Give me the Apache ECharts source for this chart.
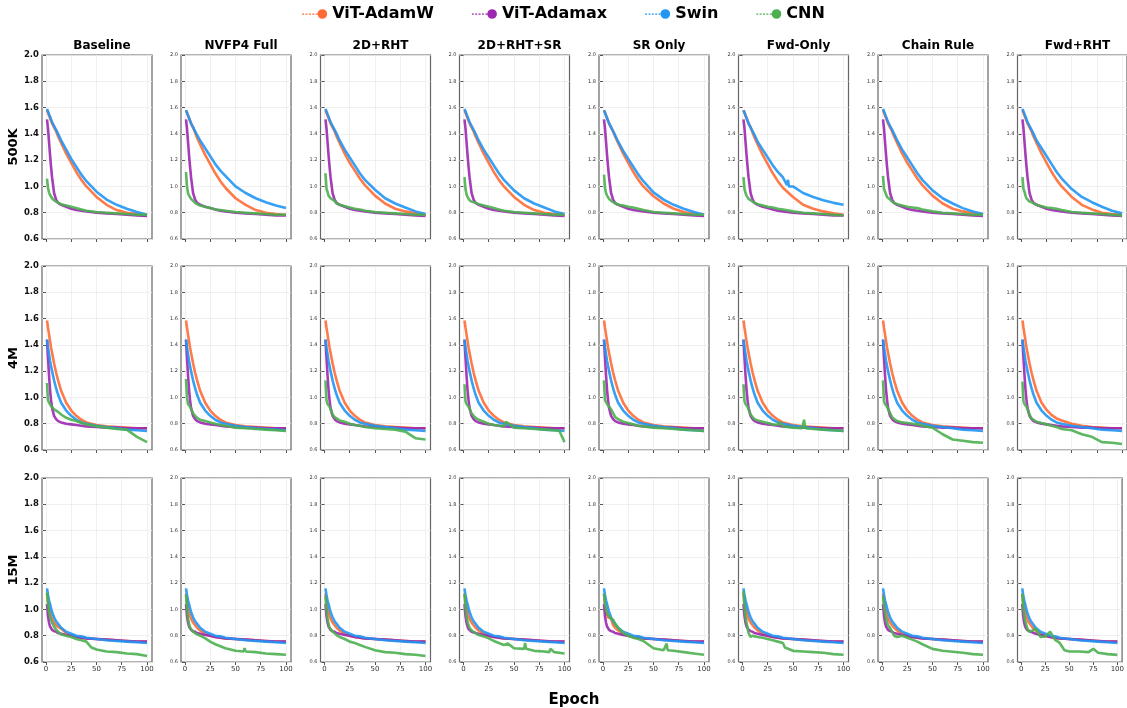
<!DOCTYPE html>
<html lang="en">
<head>
<meta charset="UTF-8">
<title>Loss curves</title>
<script src="https://cdn.jsdelivr.net/npm/echarts@6/dist/echarts.min.js"></script>
<style>
  html, body { margin: 0; padding: 0; background: #fff; }
  #main { width: 1127px; height: 708px; }
</style>
</head>
<body>
<div id="main"></div>
<script>
  // ---- data ----
  var epochs = [1, 2, 3, 4, 5, 6, 8, 10, 12, 15, 20, 25, 30, 35, 40, 50, 60, 70, 80, 90, 100];
  var methods = ['Baseline', 'NVFP4 Full', '2D+RHT', '2D+RHT+SR', 'SR Only', 'Fwd-Only', 'Chain Rule', 'Fwd+RHT'];
  var sizes = ['500K', '4M', '15M'];
  var seriesNames = ['ViT-AdamW', 'ViT-Adamax', 'Swin', 'CNN'];
  var xTicks = [0, 25, 50, 75, 100];

  // 500K row, one list per column
  var adamw500K = [
    [1.58,1.56,1.54,1.52,1.50,1.48,1.45,1.42,1.38,1.33,1.25,1.18,1.11,1.05,1.00,0.92,0.86,0.82,0.80,0.79,0.78],
    [1.58,1.56,1.54,1.52,1.50,1.48,1.45,1.41,1.37,1.32,1.24,1.17,1.10,1.04,0.99,0.91,0.86,0.82,0.80,0.79,0.785],
    [1.58,1.56,1.54,1.52,1.50,1.48,1.45,1.42,1.38,1.33,1.25,1.18,1.12,1.06,1.01,0.93,0.87,0.83,0.81,0.795,0.785],
    [1.58,1.56,1.54,1.52,1.50,1.48,1.45,1.42,1.38,1.33,1.25,1.18,1.11,1.05,1.00,0.92,0.86,0.82,0.80,0.79,0.785],
    [1.58,1.56,1.54,1.52,1.50,1.48,1.45,1.42,1.38,1.33,1.25,1.18,1.11,1.05,1.00,0.925,0.87,0.83,0.805,0.79,0.78],
    [1.58,1.56,1.54,1.52,1.50,1.48,1.45,1.41,1.37,1.32,1.24,1.17,1.10,1.04,0.99,0.92,0.86,0.83,0.81,0.795,0.785],
    [1.58,1.56,1.54,1.52,1.50,1.48,1.45,1.42,1.38,1.33,1.25,1.18,1.12,1.06,1.01,0.93,0.87,0.83,0.81,0.795,0.785],
    [1.58,1.56,1.54,1.52,1.50,1.48,1.45,1.42,1.38,1.33,1.25,1.18,1.11,1.05,1.00,0.92,0.86,0.825,0.80,0.79,0.785]
  ];
  var adamax500K = [
    [1.51,1.44,1.34,1.24,1.15,1.07,0.95,0.90,0.875,0.86,0.845,0.83,0.82,0.815,0.81,0.80,0.795,0.79,0.785,0.78,0.775],
    [1.51,1.44,1.34,1.24,1.15,1.07,0.95,0.90,0.875,0.86,0.845,0.835,0.825,0.815,0.81,0.80,0.795,0.79,0.785,0.78,0.78],
    [1.51,1.44,1.34,1.24,1.15,1.07,0.95,0.90,0.875,0.86,0.845,0.83,0.82,0.815,0.81,0.80,0.795,0.79,0.785,0.78,0.775],
    [1.51,1.44,1.34,1.24,1.15,1.07,0.95,0.90,0.875,0.86,0.845,0.83,0.82,0.815,0.81,0.80,0.795,0.79,0.785,0.78,0.775],
    [1.51,1.44,1.34,1.24,1.15,1.07,0.95,0.90,0.875,0.86,0.845,0.83,0.82,0.815,0.81,0.80,0.795,0.79,0.785,0.78,0.775],
    [1.51,1.44,1.34,1.24,1.15,1.07,0.95,0.90,0.875,0.86,0.845,0.835,0.825,0.815,0.81,0.80,0.795,0.79,0.785,0.78,0.78],
    [1.51,1.44,1.34,1.24,1.15,1.07,0.95,0.90,0.875,0.86,0.845,0.83,0.82,0.815,0.81,0.80,0.795,0.79,0.785,0.78,0.775],
    [1.51,1.44,1.34,1.24,1.15,1.07,0.95,0.90,0.875,0.86,0.845,0.83,0.82,0.815,0.81,0.80,0.795,0.79,0.785,0.78,0.775]
  ];
  var swin500K = [
    [1.59,1.57,1.55,1.53,1.51,1.49,1.46,1.43,1.40,1.35,1.28,1.21,1.15,1.09,1.04,0.96,0.90,0.86,0.83,0.805,0.785],
    [1.58,1.56,1.54,1.52,1.50,1.48,1.45,1.42,1.39,1.35,1.29,1.23,1.17,1.12,1.08,1.00,0.95,0.91,0.88,0.855,0.835],
    [1.59,1.57,1.55,1.53,1.51,1.49,1.46,1.43,1.40,1.35,1.28,1.22,1.16,1.10,1.05,0.975,0.91,0.87,0.84,0.81,0.79],
    [1.59,1.57,1.55,1.53,1.51,1.49,1.46,1.43,1.40,1.35,1.28,1.22,1.16,1.10,1.05,0.97,0.91,0.87,0.84,0.81,0.79],
    [1.58,1.56,1.54,1.52,1.50,1.48,1.45,1.42,1.39,1.34,1.27,1.21,1.15,1.09,1.04,0.955,0.90,0.86,0.83,0.805,0.785],
    [1.58,1.56,1.54,1.52,1.50,1.48,1.45,1.42,1.39,1.34,1.28,1.22,1.16,1.11,1.07,1.00,0.95,0.92,0.895,0.875,0.86],
    [1.59,1.57,1.55,1.53,1.51,1.49,1.46,1.43,1.40,1.35,1.28,1.22,1.16,1.10,1.05,0.97,0.91,0.87,0.835,0.81,0.79],
    [1.59,1.57,1.55,1.53,1.51,1.49,1.46,1.43,1.40,1.35,1.29,1.23,1.17,1.11,1.06,0.98,0.92,0.88,0.845,0.815,0.795]
  ];
  var cnn500K = [
    [1.06,0.99,0.955,0.935,0.92,0.91,0.895,0.885,0.875,0.865,0.855,0.845,0.835,0.825,0.815,0.805,0.80,0.795,0.79,0.785,0.785],
    [1.11,1.00,0.95,0.93,0.915,0.905,0.89,0.875,0.865,0.855,0.845,0.835,0.825,0.82,0.815,0.805,0.80,0.795,0.79,0.785,0.785],
    [1.10,0.98,0.96,0.93,0.92,0.91,0.90,0.89,0.87,0.86,0.85,0.84,0.83,0.825,0.815,0.805,0.80,0.795,0.79,0.785,0.785],
    [1.07,0.98,0.94,0.92,0.905,0.895,0.885,0.88,0.875,0.865,0.855,0.845,0.835,0.825,0.815,0.805,0.80,0.795,0.79,0.785,0.785],
    [1.09,0.99,0.95,0.93,0.915,0.905,0.89,0.88,0.87,0.86,0.855,0.845,0.84,0.83,0.82,0.805,0.80,0.795,0.79,0.785,0.785],
    [1.07,0.98,0.95,0.93,0.915,0.905,0.895,0.885,0.875,0.865,0.855,0.845,0.84,0.83,0.825,0.81,0.80,0.795,0.79,0.785,0.78],
    [1.08,0.98,0.96,0.94,0.92,0.905,0.90,0.885,0.875,0.865,0.855,0.845,0.84,0.835,0.825,0.81,0.80,0.795,0.79,0.785,0.785],
    [1.07,0.98,0.96,0.93,0.91,0.90,0.885,0.88,0.87,0.86,0.85,0.84,0.835,0.83,0.82,0.805,0.80,0.795,0.79,0.785,0.78]
  ];

  // 4M row
  var adamw4M = [
    [1.585,1.53,1.48,1.43,1.38,1.34,1.26,1.19,1.13,1.05,0.96,0.90,0.86,0.83,0.81,0.79,0.78,0.775,0.77,0.765,0.765],
    [1.585,1.53,1.48,1.43,1.38,1.34,1.26,1.19,1.13,1.05,0.96,0.90,0.86,0.83,0.81,0.79,0.78,0.775,0.77,0.765,0.765],
    [1.585,1.53,1.48,1.43,1.38,1.34,1.26,1.19,1.13,1.05,0.96,0.90,0.86,0.83,0.81,0.79,0.78,0.775,0.77,0.765,0.765],
    [1.585,1.53,1.48,1.43,1.38,1.34,1.26,1.19,1.13,1.05,0.96,0.90,0.86,0.83,0.81,0.79,0.78,0.775,0.77,0.765,0.765],
    [1.585,1.53,1.48,1.43,1.38,1.34,1.26,1.19,1.13,1.05,0.96,0.90,0.86,0.83,0.81,0.79,0.78,0.775,0.77,0.765,0.765],
    [1.585,1.53,1.48,1.43,1.38,1.34,1.26,1.19,1.13,1.05,0.96,0.90,0.86,0.83,0.81,0.79,0.78,0.775,0.77,0.765,0.765],
    [1.585,1.53,1.48,1.43,1.38,1.34,1.26,1.19,1.13,1.05,0.96,0.90,0.86,0.83,0.81,0.79,0.78,0.775,0.77,0.765,0.765],
    [1.585,1.53,1.48,1.43,1.38,1.34,1.26,1.19,1.13,1.05,0.96,0.905,0.865,0.84,0.825,0.80,0.785,0.775,0.77,0.765,0.765]
  ];
  var adamax4M = [
    [1.44,1.30,1.17,1.06,0.98,0.92,0.86,0.835,0.82,0.81,0.80,0.795,0.79,0.785,0.78,0.775,0.77,0.77,0.765,0.765,0.765],
    [1.44,1.30,1.17,1.06,0.98,0.92,0.86,0.835,0.82,0.81,0.80,0.795,0.79,0.785,0.78,0.775,0.77,0.77,0.765,0.765,0.765],
    [1.44,1.30,1.17,1.06,0.98,0.92,0.86,0.835,0.82,0.81,0.80,0.795,0.79,0.785,0.78,0.775,0.77,0.77,0.765,0.765,0.765],
    [1.44,1.30,1.17,1.06,0.98,0.92,0.86,0.835,0.82,0.81,0.80,0.795,0.79,0.785,0.78,0.775,0.77,0.77,0.765,0.765,0.765],
    [1.44,1.30,1.17,1.06,0.98,0.92,0.86,0.835,0.82,0.81,0.80,0.795,0.79,0.785,0.78,0.775,0.77,0.77,0.765,0.765,0.765],
    [1.44,1.30,1.17,1.06,0.98,0.92,0.86,0.835,0.82,0.81,0.80,0.795,0.79,0.785,0.78,0.775,0.77,0.77,0.765,0.765,0.765],
    [1.44,1.30,1.17,1.06,0.98,0.92,0.86,0.835,0.82,0.81,0.80,0.795,0.79,0.785,0.78,0.775,0.77,0.77,0.765,0.765,0.765],
    [1.44,1.30,1.17,1.06,0.98,0.92,0.86,0.835,0.82,0.81,0.80,0.795,0.79,0.785,0.78,0.775,0.77,0.77,0.765,0.765,0.765]
  ];
  var swin4M = [
    [1.44,1.38,1.33,1.28,1.24,1.20,1.13,1.07,1.02,0.96,0.90,0.86,0.83,0.81,0.80,0.785,0.775,0.765,0.755,0.75,0.745],
    [1.44,1.38,1.33,1.28,1.24,1.20,1.13,1.07,1.02,0.96,0.90,0.86,0.83,0.81,0.80,0.785,0.775,0.765,0.76,0.755,0.75],
    [1.44,1.38,1.33,1.28,1.24,1.20,1.13,1.07,1.02,0.96,0.90,0.86,0.83,0.81,0.80,0.785,0.775,0.765,0.755,0.75,0.745],
    [1.44,1.38,1.33,1.28,1.24,1.20,1.13,1.07,1.02,0.96,0.90,0.86,0.83,0.81,0.80,0.785,0.775,0.765,0.755,0.75,0.745],
    [1.44,1.38,1.33,1.28,1.24,1.20,1.13,1.07,1.02,0.96,0.90,0.86,0.83,0.81,0.80,0.785,0.775,0.765,0.755,0.75,0.745],
    [1.44,1.38,1.33,1.28,1.24,1.20,1.13,1.07,1.02,0.96,0.90,0.86,0.83,0.81,0.80,0.785,0.775,0.765,0.755,0.75,0.745],
    [1.44,1.38,1.33,1.28,1.24,1.20,1.13,1.07,1.02,0.96,0.90,0.86,0.83,0.81,0.80,0.785,0.775,0.765,0.755,0.75,0.745],
    [1.44,1.38,1.33,1.28,1.24,1.20,1.13,1.07,1.02,0.96,0.90,0.86,0.83,0.81,0.80,0.785,0.775,0.765,0.755,0.75,0.745]
  ];
  var cnn4M = [
    [1.11,0.98,0.96,0.95,0.935,0.925,0.91,0.90,0.89,0.87,0.845,0.83,0.82,0.805,0.795,0.78,0.77,0.76,0.755,0.70,0.66],
    [1.14,1.00,0.95,0.94,0.93,0.92,0.88,0.86,0.845,0.83,0.82,0.81,0.80,0.79,0.785,0.77,0.765,0.76,0.755,0.75,0.745],
    [1.13,0.98,0.95,0.94,0.93,0.91,0.87,0.85,0.84,0.825,0.815,0.80,0.79,0.785,0.775,0.765,0.76,0.755,0.74,0.69,0.68],
    [1.10,0.97,0.95,0.94,0.93,0.92,0.88,0.86,0.845,0.83,0.815,0.80,0.79,0.785,0.78,0.77,0.765,0.76,0.755,0.75,0.66],
    [1.13,0.98,0.965,0.95,0.94,0.93,0.91,0.88,0.85,0.835,0.815,0.805,0.795,0.785,0.78,0.77,0.765,0.76,0.755,0.75,0.745],
    [1.10,0.97,0.95,0.94,0.93,0.915,0.87,0.85,0.835,0.825,0.815,0.805,0.795,0.79,0.78,0.77,0.765,0.76,0.755,0.75,0.745],
    [1.13,0.97,0.95,0.94,0.93,0.92,0.88,0.85,0.835,0.82,0.81,0.805,0.80,0.795,0.785,0.77,0.72,0.68,0.67,0.66,0.655],
    [1.12,0.97,0.95,0.94,0.93,0.91,0.87,0.84,0.83,0.815,0.805,0.795,0.785,0.775,0.76,0.75,0.72,0.70,0.66,0.655,0.645]
  ];

  // 15M row
  var adamw15M = [
    [1.12,1.06,1.01,0.98,0.95,0.93,0.90,0.88,0.865,0.855,0.82,0.80,0.79,0.785,0.78,0.775,0.77,0.765,0.76,0.755,0.755],
    [1.12,1.06,1.01,0.98,0.95,0.93,0.90,0.88,0.86,0.84,0.815,0.80,0.79,0.785,0.78,0.775,0.77,0.765,0.76,0.755,0.755],
    [1.12,1.06,1.01,0.98,0.95,0.93,0.90,0.88,0.86,0.84,0.815,0.80,0.79,0.785,0.78,0.775,0.77,0.765,0.76,0.755,0.755],
    [1.12,1.06,1.01,0.98,0.95,0.93,0.90,0.88,0.86,0.84,0.815,0.80,0.79,0.785,0.78,0.775,0.77,0.765,0.76,0.755,0.755],
    [1.12,1.04,0.99,0.96,0.94,0.95,0.93,0.88,0.86,0.84,0.815,0.80,0.79,0.785,0.78,0.775,0.77,0.765,0.76,0.755,0.755],
    [1.12,1.06,1.01,0.98,0.95,0.93,0.90,0.88,0.86,0.84,0.815,0.80,0.79,0.785,0.78,0.775,0.77,0.765,0.76,0.755,0.755],
    [1.12,1.06,1.01,0.98,0.95,0.93,0.90,0.88,0.86,0.84,0.815,0.80,0.79,0.785,0.78,0.775,0.77,0.765,0.76,0.755,0.755],
    [1.12,1.06,1.01,0.98,0.95,0.93,0.90,0.88,0.86,0.84,0.815,0.80,0.79,0.785,0.78,0.775,0.77,0.765,0.76,0.755,0.755]
  ];
  var adamax15M = [
    [1.04,0.95,0.90,0.87,0.855,0.845,0.835,0.83,0.82,0.815,0.805,0.80,0.79,0.785,0.78,0.775,0.77,0.765,0.76,0.755,0.755],
    [1.04,0.95,0.90,0.87,0.855,0.845,0.835,0.83,0.82,0.815,0.805,0.80,0.79,0.785,0.78,0.775,0.77,0.765,0.76,0.755,0.755],
    [1.04,0.95,0.90,0.87,0.855,0.845,0.835,0.83,0.82,0.815,0.805,0.80,0.79,0.785,0.78,0.775,0.77,0.765,0.76,0.755,0.755],
    [1.04,0.95,0.90,0.87,0.85,0.84,0.83,0.825,0.82,0.815,0.805,0.80,0.79,0.785,0.78,0.775,0.77,0.765,0.76,0.755,0.755],
    [1.04,0.95,0.90,0.87,0.855,0.845,0.835,0.83,0.82,0.815,0.805,0.80,0.79,0.785,0.78,0.775,0.77,0.765,0.76,0.755,0.755],
    [1.04,0.95,0.90,0.87,0.855,0.845,0.835,0.83,0.82,0.815,0.805,0.80,0.79,0.785,0.78,0.775,0.77,0.765,0.76,0.755,0.755],
    [1.04,0.95,0.90,0.87,0.855,0.845,0.835,0.83,0.82,0.815,0.805,0.80,0.79,0.785,0.78,0.775,0.77,0.765,0.76,0.755,0.755],
    [1.04,0.95,0.90,0.87,0.855,0.845,0.835,0.83,0.82,0.815,0.805,0.80,0.79,0.785,0.78,0.775,0.77,0.765,0.76,0.755,0.755]
  ];
  var swin15M = [
    [1.16,1.11,1.07,1.04,1.01,0.98,0.94,0.91,0.89,0.86,0.83,0.815,0.80,0.795,0.785,0.775,0.765,0.76,0.755,0.75,0.745],
    [1.16,1.11,1.07,1.04,1.01,0.98,0.94,0.91,0.89,0.86,0.83,0.815,0.80,0.795,0.785,0.775,0.765,0.76,0.755,0.75,0.745],
    [1.16,1.11,1.07,1.04,1.01,0.98,0.94,0.91,0.89,0.86,0.83,0.815,0.80,0.795,0.785,0.775,0.765,0.76,0.755,0.75,0.745],
    [1.16,1.11,1.07,1.04,1.01,0.98,0.94,0.91,0.89,0.86,0.83,0.815,0.80,0.795,0.785,0.775,0.765,0.76,0.755,0.75,0.745],
    [1.16,1.11,1.07,1.04,1.01,0.98,0.94,0.91,0.89,0.86,0.83,0.815,0.80,0.795,0.785,0.775,0.765,0.76,0.755,0.75,0.745],
    [1.16,1.11,1.07,1.04,1.01,0.98,0.94,0.91,0.89,0.86,0.83,0.815,0.80,0.795,0.785,0.775,0.765,0.76,0.755,0.75,0.745],
    [1.16,1.11,1.07,1.04,1.01,0.98,0.94,0.91,0.89,0.86,0.83,0.815,0.80,0.795,0.785,0.775,0.765,0.76,0.755,0.75,0.745],
    [1.16,1.11,1.07,1.04,1.01,0.98,0.94,0.91,0.89,0.86,0.83,0.815,0.80,0.795,0.785,0.775,0.765,0.76,0.755,0.75,0.745]
  ];
  var cnn15M = [
    [1.13,1.05,0.98,0.95,0.92,0.90,0.87,0.845,0.83,0.81,0.80,0.79,0.775,0.765,0.755,0.695,0.68,0.675,0.665,0.66,0.645],
    [1.11,1.00,0.93,0.89,0.86,0.845,0.83,0.82,0.81,0.80,0.78,0.755,0.735,0.72,0.705,0.685,0.68,0.675,0.665,0.66,0.655],
    [1.10,1.00,0.93,0.89,0.86,0.845,0.83,0.82,0.805,0.79,0.775,0.755,0.745,0.73,0.715,0.69,0.675,0.67,0.66,0.655,0.645],
    [1.12,1.02,0.95,0.91,0.88,0.86,0.84,0.83,0.82,0.805,0.795,0.78,0.76,0.745,0.73,0.705,0.70,0.685,0.68,0.675,0.665],
    [1.12,1.04,1.00,0.97,0.96,0.95,0.93,0.92,0.89,0.86,0.82,0.80,0.785,0.775,0.76,0.705,0.69,0.685,0.675,0.665,0.655],
    [1.14,1.02,0.94,0.90,0.86,0.82,0.79,0.80,0.795,0.79,0.785,0.775,0.765,0.755,0.745,0.685,0.68,0.675,0.67,0.66,0.655],
    [1.10,1.02,0.97,0.93,0.90,0.88,0.86,0.83,0.80,0.79,0.80,0.785,0.77,0.755,0.735,0.70,0.685,0.678,0.67,0.66,0.655],
    [1.12,1.02,0.96,0.92,0.89,0.86,0.83,0.82,0.84,0.855,0.79,0.795,0.83,0.77,0.745,0.68,0.68,0.675,0.67,0.66,0.654]
  ];

  // single spikes seen in the panels: [row, col, series, epoch, value]
  var spikes = [
    [0, 5, 2, 44, 1.01], [0, 5, 2, 45, 1.05], [0, 5, 2, 46, 1.00],
    [1, 3, 3, 42, 0.815], [1, 3, 3, 95, 0.745],
    [1, 5, 3, 36, 0.815], [1, 5, 3, 59, 0.765], [1, 5, 3, 61, 0.83], [1, 5, 3, 62, 0.765],
    [2, 0, 3, 45, 0.71], [2, 0, 0, 16, 0.86],
    [2, 1, 3, 58, 0.68], [2, 1, 3, 59, 0.705],
    [2, 3, 3, 44, 0.74], [2, 3, 3, 61, 0.745], [2, 3, 3, 62, 0.70], [2, 3, 3, 85, 0.675], [2, 3, 3, 86, 0.70],
    [2, 4, 3, 63, 0.74], [2, 4, 3, 64, 0.69],
    [2, 5, 3, 42, 0.71],
    [2, 7, 3, 45, 0.69], [2, 7, 3, 75, 0.70]
  ];

  var rows = [
    [adamw500K, adamax500K, swin500K, cnn500K],
    [adamw4M, adamax4M, swin4M, cnn4M],
    [adamw15M, adamax15M, swin15M, cnn15M]
  ];

  // ---- layout / style ----
  var colors = ['#FF6B35', '#9C27B0', '#2196F3', '#4CAF50'];
  var font = 'DejaVu Sans';
  var gridLeft = [42, 181, 320.5, 459.5, 599, 738.5, 878, 1017.5];
  var gridTop = [55, 266, 478];
  var gridW = 110, gridH = 184;

  var grids = [], xAxes = [], yAxes = [], series = [];
  for (var r = 0; r < 3; r++) {
    for (var c = 0; c < 8; c++) {
      var k = r * 8 + c;
      grids.push({
        left: gridLeft[c], top: gridTop[r], width: gridW, height: gridH,
        show: true, borderColor: '#666', borderWidth: 1.2, backgroundColor: '#fff'
      });
      xAxes.push({
        type: 'value', gridIndex: k, min: -3.95, max: 104.95,
        axisLine: { show: false },
        axisTick: { show: true, length: 3, customValues: xTicks, lineStyle: { color: '#555' } },
        axisLabel: { show: r === 2, customValues: xTicks, fontSize: 7, color: '#333', margin: 4, fontFamily: font },
        splitLine: { show: true, lineStyle: { color: '#ececec', width: 0.8 } }
      });
      yAxes.push({
        type: 'value', gridIndex: k, min: 0.6, max: 2.0, interval: 0.2,
        name: c === 0 ? sizes[r] : '',
        nameLocation: 'middle', nameRotate: 90, nameGap: 21,
        nameTextStyle: { fontSize: 13, fontWeight: 'bold', color: '#000', fontFamily: font },
        axisLine: { show: false },
        axisTick: { show: true, length: 3, lineStyle: { color: '#555' } },
        axisLabel: {
          fontSize: c === 0 ? 8.5 : 5, fontWeight: c === 0 ? 'bold' : 'normal',
          color: c === 0 ? '#111' : '#333', margin: 3, fontFamily: font,
          formatter: function (v) { return v.toFixed(1); }
        },
        splitLine: { show: true, lineStyle: { color: '#ececec', width: 0.8 } }
      });
      for (var s = 0; s < 4; s++) {
        var vals = rows[r][s][c];
        var pts = epochs.map(function (e, i) { return [e, vals[i]]; });
        spikes.forEach(function (p) {
          if (p[0] === r && p[1] === c && p[2] === s) pts.push([p[3], p[4]]);
        });
        pts.sort(function (a, b) { return a[0] - b[0]; });
        series.push({
          name: seriesNames[s], type: 'line', xAxisIndex: k, yAxisIndex: k,
          data: pts, showSymbol: false, symbol: 'none', smooth: false,
          lineStyle: { color: colors[s], width: 2.6, opacity: 0.9 },
          itemStyle: { color: colors[s] },
          z: 2 + s, silent: true
        });
      }
    }
  }

  var titles = methods.map(function (m, c) {
    return {
      text: m, left: gridLeft[c] + gridW / 2, top: 35, textAlign: 'center',
      textStyle: { fontSize: 12, fontWeight: 'bold', color: '#000', fontFamily: font }
    };
  });
  titles.push({
    text: 'Epoch', left: 569, top: 688, textAlign: 'center',
    textStyle: { fontSize: 15, fontWeight: 'bold', color: '#000', fontFamily: font }
  });

  var legendIcon = 'path://M0,5.5h2v1.2h-2z M3.5,5.5h2v1.2h-2z M7,5.5h2v1.2h-2z M10.5,5.5h2v1.2h-2z M14,5.5h2v1.2h-2z M16,6a5,5 0 1,0 10,0a5,5 0 1,0 -10,0z';

  var chart = echarts.init(document.getElementById('main'), null, { renderer: 'canvas' });
  chart.setOption({
    backgroundColor: '#fff',
    animation: false,
    title: titles,
    legend: {
      top: 1, left: 'center', itemGap: 38, itemWidth: 25, itemHeight: 10,
      selectedMode: false,
      textStyle: { fontSize: 16, fontWeight: 'bold', color: '#000', fontFamily: font },
      data: seriesNames.map(function (n) { return { name: n, icon: legendIcon }; })
    },
    grid: grids,
    xAxis: xAxes,
    yAxis: yAxes,
    series: series
  });

  window.addEventListener('resize', function () {
    chart.resize();
  });
</script>
</body>
</html>
